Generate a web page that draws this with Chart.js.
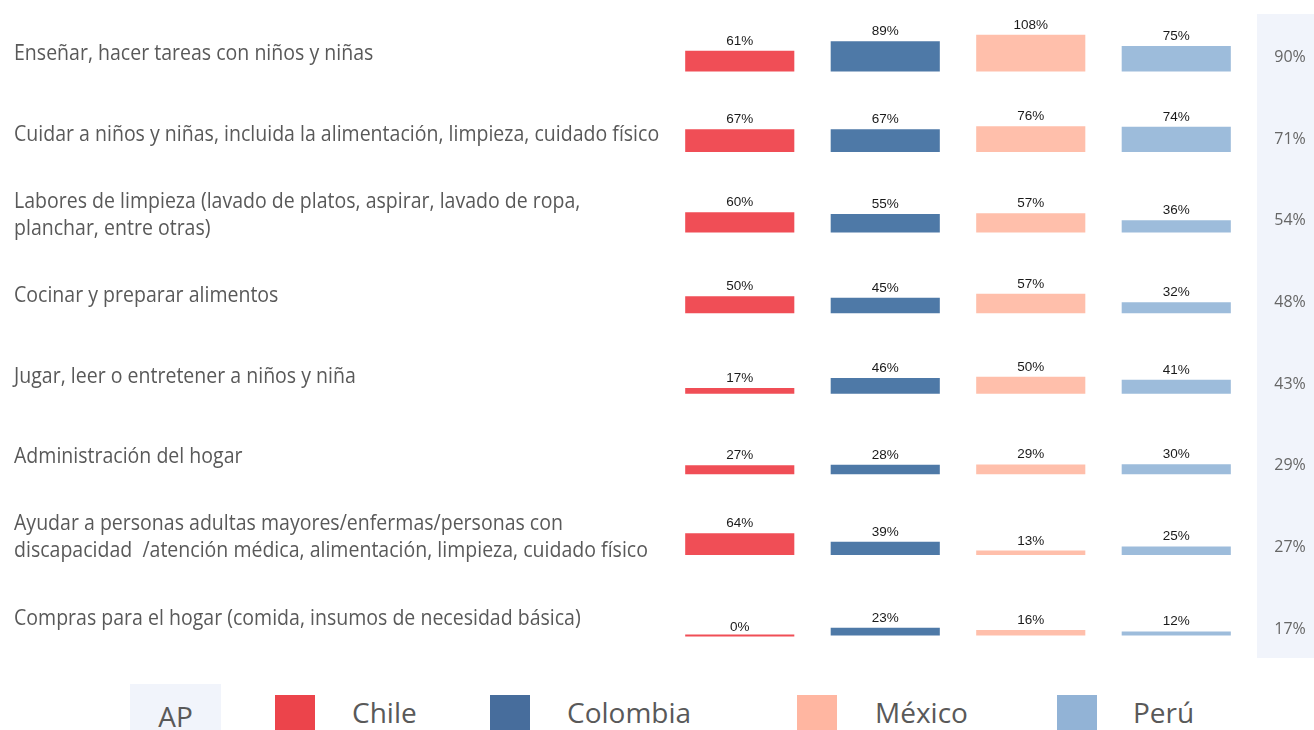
<!DOCTYPE html>
<html lang="es">
<head>
<meta charset="UTF-8">
<title>Tareas de cuidado por país</title>
<script src="https://cdn.jsdelivr.net/npm/chart.js"></script>
<style>
    body {
        margin: 0;
        background: #ffffff;
        font-family: "Open Sans", sans-serif;
        width: 1314px;
        height: 730px;
        overflow: hidden;
        position: relative;
    }
    #chart {
        position: absolute;
        left: 0;
        top: 0;
    }
    .legend {
        position: absolute;
        top: 684px;
        left: 0;
        width: 1314px;
        height: 46px;
    }
    .legend .ap {
        position: absolute;
        left: 130px;
        top: 0;
        width: 91px;
        height: 46px;
        background: #f1f4fb;
        color: #595959;
        font-size: 28px;
        text-align: center;
        line-height: 64px;
    }
    .legend .swatch {
        position: absolute;
        top: 11px;
        width: 40px;
        height: 40px;
    }
    .legend .name {
        position: absolute;
        top: 8px;
        color: #595959;
        font-size: 28px;
        line-height: 40px;
    }
</style>
</head>
<body>

<canvas id="chart" width="1314" height="660"></canvas>

<div class="legend" id="legend">
    <div class="ap">AP</div>
</div>

<script>
    const countries = ['Chile', 'Colombia', 'México', 'Perú'];

    const tasks = [
        ['Enseñar, hacer tareas con niños y niñas'],
        ['Cuidar a niños y niñas, incluida la alimentación, limpieza, cuidado físico'],
        ['Labores de limpieza (lavado de platos, aspirar, lavado de ropa,', 'planchar, entre otras)'],
        ['Cocinar y preparar alimentos'],
        ['Jugar, leer o entretener a niños y niña'],
        ['Administración del hogar'],
        ['Ayudar a personas adultas mayores/enfermas/personas con', 'discapacidad  /atención médica, alimentación, limpieza, cuidado físico'],
        ['Compras para el hogar (comida, insumos de necesidad básica)']
    ];

    const chile    = [61, 67, 60, 50, 17, 27, 64, 0];
    const colombia = [89, 67, 55, 45, 46, 28, 39, 23];
    const mexico   = [108, 76, 57, 57, 50, 29, 13, 16];
    const peru     = [75, 74, 36, 32, 41, 30, 25, 12];
    const ap       = [90, 71, 54, 48, 43, 29, 27, 17];

    const barColors    = ['#f04e56', '#4e79a7', '#ffbfab', '#9dbcdb'];
    const legendColors = ['#ec444b', '#476d9c', '#ffb6a1', '#92b3d6'];

    // each task sits in its own band on one shared value axis
    const ROW_STEP = 237;
    const series = [chile, colombia, mexico, peru];
    const rowBase = i => (tasks.length - 1 - i) * ROW_STEP;

    const datasets = tasks.map((t, i) => ({
        label: t.join(' '),
        data: series.map(s => [rowBase(i), rowBase(i) + s[i]]),
        values: series.map(s => s[i]),
        backgroundColor: barColors,
        borderWidth: 0,
        grouped: false,
        barPercentage: 0.75,
        categoryPercentage: 1.0,
        minBarLength: 2
    }));

    const tablePlugin = {
        id: 'tableText',
        beforeDraw(chart) {
            const ctx = chart.ctx;
            ctx.save();
            ctx.fillStyle = '#f1f4fb';
            ctx.fillRect(1257, 14, 57, 644);
            ctx.restore();
        },
        afterDatasetsDraw(chart) {
            const ctx = chart.ctx;
            const y = chart.scales.y;
            ctx.save();

            // values over the bars
            ctx.font = '13.5px "Liberation Sans", Arial, sans-serif';
            ctx.fillStyle = '#1a1a1a';
            ctx.textAlign = 'center';
            ctx.textBaseline = 'alphabetic';
            chart.data.datasets.forEach((ds, i) => {
                chart.getDatasetMeta(i).data.forEach((bar, j) => {
                    ctx.fillText(ds.values[j] + '%', bar.x, bar.y - 6);
                });
            });

            // task names on the left, slightly condensed
            ctx.font = '21px "Open Sans", sans-serif';
            ctx.fillStyle = '#595959';
            ctx.textAlign = 'left';
            ctx.textBaseline = 'middle';
            tasks.forEach((lines, i) => {
                const mid = y.getPixelForValue(rowBase(i)) - 17;
                const lh = 27;
                const top = mid - (lines.length - 1) * lh / 2;
                lines.forEach((line, k) => {
                    ctx.save();
                    ctx.translate(14, top + k * lh);
                    ctx.scale(0.93, 1);
                    ctx.fillText(line, 0, 0);
                    ctx.restore();
                });
            });

            // AP column
            ctx.font = '16px "Open Sans", sans-serif';
            ctx.fillStyle = '#666666';
            ctx.textAlign = 'center';
            ap.forEach((v, i) => {
                const py = y.getPixelForValue(rowBase(i)) - 14 + i * 1.1;
                ctx.fillText(v + '%', 1290, py);
            });
            ctx.restore();
        }
    };

    new Chart(document.getElementById('chart'), {
        type: 'bar',
        data: { labels: countries, datasets: datasets },
        options: {
            responsive: false,
            animation: false,
            layout: { padding: { left: 667, right: 65, top: 0, bottom: 0 } },
            plugins: {
                legend: { display: false },
                tooltip: { enabled: false }
            },
            scales: {
                x: { display: false },
                y: { display: false, min: -72, max: 1869 }
            }
        },
        plugins: [tablePlugin]
    });

    // legend row
    const legend = document.getElementById('legend');
    const swatchX = [275, 490, 797, 1057];
    const nameX = [352, 567, 875, 1133];
    countries.forEach((c, i) => {
        const sw = document.createElement('div');
        sw.className = 'swatch';
        sw.style.left = swatchX[i] + 'px';
        sw.style.background = legendColors[i];
        legend.appendChild(sw);
        const nm = document.createElement('div');
        nm.className = 'name';
        nm.style.left = nameX[i] + 'px';
        nm.textContent = c;
        legend.appendChild(nm);
    });
</script>

</body>
</html>
